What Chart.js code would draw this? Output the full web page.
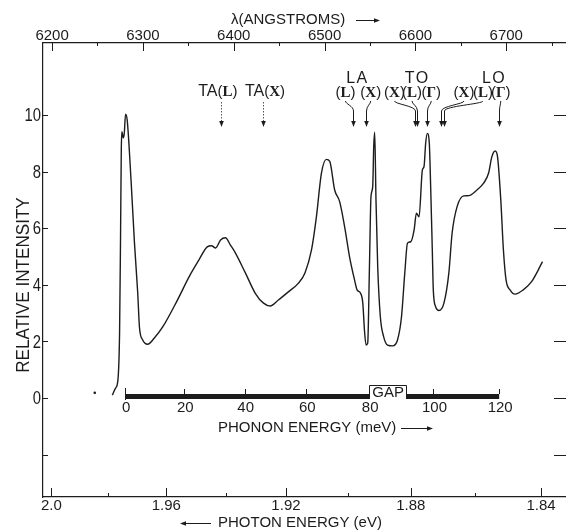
<!DOCTYPE html>
<html>
<head>
<meta charset="utf-8">
<script src="https://cdn.jsdelivr.net/npm/chart.js@4.4.1/dist/chart.umd.min.js"></script>
<style>
  html, body { margin: 0; padding: 0; background: #fff; overflow: hidden; }
  #wrap { width: 566px; height: 531px; overflow: hidden; position: relative; }
  #wrap canvas { position: absolute; left: 0; top: 0; }
</style>
</head>
<body>
<div id="wrap"><canvas id="chart" width="572" height="531"></canvas></div>
<script>
const HC = 12398.4; // eV * angstrom

// spectrum (wavelength in angstrom, relative intensity)
const wavelength = [
  6266.3, 6269.9, 6272.5, 6274.3, 6275.4, 6276.2, 6276.8, 6278.4, 6279.5, 6280.9,
  6282.7, 6287.1, 6290.7, 6294.3, 6296.2, 6299.8, 6305.2, 6312.6, 6321.6, 6338.0,
  6350.8, 6361.7, 6370.8, 6375.6, 6380.0, 6385.5, 6390.9, 6396.4, 6401.9, 6412.8,
  6423.7, 6432.8, 6440.1, 6449.2, 6460.1, 6471.0, 6478.4, 6485.6, 6491.0, 6496.5,
  6502.0, 6505.7, 6511.1, 6516.6, 6522.1, 6527.5, 6533.0, 6535.8, 6539.6, 6542.1,
  6543.9, 6545.7, 6547.5, 6549.4, 6551.1, 6553.0, 6554.1, 6555.2, 6556.6, 6558.5,
  6561.4, 6565.0, 6569.4, 6574.9, 6580.3, 6584.7, 6588.3, 6591.3, 6594.9, 6598.6,
  6601.1, 6604.0, 6607.7, 6609.5, 6611.3, 6613.1, 6615.3, 6616.7, 6618.6, 6619.7,
  6622.2, 6625.9, 6631.4, 6636.8, 6640.4, 6645.9, 6653.2, 6658.7, 6667.8, 6675.1,
  6680.5, 6684.2, 6687.8, 6690.4, 6694.0, 6696.9, 6699.8, 6704.2, 6709.6, 6718.8,
  6727.9, 6735.2, 6739.9
];
const intensity = [
  0.10, 0.35, 0.64, 2.30, 5.80, 8.76, 9.41, 9.19, 9.36, 10.03,
  9.82, 7.60, 5.48, 3.70, 2.50, 2.05, 1.90, 2.12, 2.50, 3.46,
  4.28, 4.88, 5.34, 5.38, 5.30, 5.58, 5.66, 5.40, 5.12, 4.42,
  3.70, 3.35, 3.25, 3.46, 3.75, 4.05, 4.42, 5.23, 6.40, 7.94,
  8.43, 8.36, 7.35, 6.94, 6.05, 4.99, 4.17, 3.82, 3.70, 3.35,
  2.40, 1.87, 1.94, 4.64, 7.12, 7.47, 8.88, 9.39, 7.00, 4.64,
  2.87, 2.17, 1.87, 1.84, 2.05, 2.87, 4.41, 5.47, 5.52, 5.94,
  6.53, 6.40, 8.06, 8.18, 9.00, 9.35, 9.00, 7.59, 5.23, 3.82,
  3.23, 3.09, 3.35, 4.41, 5.82, 6.76, 7.14, 7.15, 7.35, 7.59,
  7.94, 8.53, 8.73, 8.53, 7.00, 5.23, 4.17, 3.82, 3.67, 3.82,
  4.11, 4.52, 4.82
];
const speckWavelength = [6247];
const speckIntensity = [0.18];

const lambdaTicks = [6200, 6250, 6300, 6350, 6400, 6450, 6500, 6550, 6600, 6650, 6700, 6750];
const photonTicks = [2.0, 1.98, 1.96, 1.94, 1.92, 1.90, 1.88, 1.86, 1.84];
const photonLabels = ['2.0', '', '1.96', '', '1.92', '', '1.88', '', '1.84'];
const intensityTicks = [-2, 0, 2, 4, 6, 8, 10];
const intensityLabels = ['', '0', '2', '4', '6', '8', '10'];

// phonon energy scale drawn along the zero line
const phononTicks = [0, 20, 40, 60, 80, 100, 120];
const phononGap = [80, 91.5];
const phononZeroEv = 1.9741;
const phononStretch = 1.012;

// phonon assignments: arrow position and where the label sits (angstrom)
const modeArrow = [6385.5, 6431.7, 6531.1, 6545.4, 6599.2, 6601.4, 6613.1, 6628.4, 6631.4, 6691.5];
const modeLabelAt = [6382.5, 6434.4, 6523.0, 6550.8, 6577.0, 6596.2, 6617.5, 6653.5, 6674.3, 6694.0];
const modeBranch = ['TA', 'TA', 'LA', 'LA', 'TO', 'TO', 'TO', 'LO', 'LO', 'LO'];
const modePoint = ['L', 'X', 'L', 'X', 'X', 'L', 'Γ', 'X', 'L', 'Γ'];
const branchNames = ['LA', 'TO', 'LO'];
const branchLabelAt = [6535.5, 6601.1, 6685.8];

const ink = '#1c1c1c';
const sans = "'Liberation Sans', Arial, sans-serif";
const serif = "'Liberation Serif', 'Times New Roman', serif";
const phononLambda = mev => HC / (phononZeroEv - phononStretch * mev / 1000);

function head(ctx, x, y, dir, len = 6, half = 2.3) {
  ctx.beginPath();
  if (dir === 'down') { ctx.moveTo(x, y); ctx.lineTo(x - half, y - len); ctx.lineTo(x + half, y - len); }
  else if (dir === 'right') { ctx.moveTo(x, y); ctx.lineTo(x - len, y - half); ctx.lineTo(x - len, y + half); }
  else { ctx.moveTo(x, y); ctx.lineTo(x + len, y - half); ctx.lineTo(x + len, y + half); }
  ctx.closePath();
  ctx.fill();
}

// text made of pieces in different fonts, centred on cx
function rich(ctx, parts, cx, cy) {
  let w = 0;
  parts.forEach(p => { ctx.font = p[1]; w += ctx.measureText(p[0]).width; });
  let x = cx - w / 2;
  ctx.textAlign = 'left';
  ctx.textBaseline = 'middle';
  parts.forEach(p => { ctx.font = p[1]; ctx.fillText(p[0], x, cy); x += ctx.measureText(p[0]).width; });
}
const pointParts = letter => [['(', `15px ${sans}`], [letter, `bold 15px ${serif}`], [')', `15px ${sans}`]];

const frame = {
  id: 'frame',
  afterDraw(chart) {
    const { ctx, chartArea: a, scales: { x, xE, y } } = chart;
    ctx.save();
    ctx.strokeStyle = ink;
    ctx.fillStyle = ink;
    ctx.lineWidth = 1;

    // inward tick marks on all four sides
    ctx.beginPath();
    lambdaTicks.forEach(v => {
      const px = Math.round(x.getPixelForValue(v)) + 0.5;
      ctx.moveTo(px, a.top); ctx.lineTo(px, a.top + (v % 100 === 0 ? 8 : 3));
    });
    photonTicks.forEach((e, i) => {
      const px = Math.round(xE.getPixelForValue(HC / e)) + 0.5;
      ctx.moveTo(px, a.bottom); ctx.lineTo(px, a.bottom - (photonLabels[i] ? 9 : 4));
    });
    intensityTicks.forEach(v => {
      const py = Math.round(y.getPixelForValue(v)) + 0.5;
      ctx.moveTo(a.left, py); ctx.lineTo(a.left + 5, py);
      ctx.moveTo(a.right, py); ctx.lineTo(a.right - 14, py);
    });
    ctx.stroke();

    // y tick labels and title
    ctx.textAlign = 'right';
    ctx.textBaseline = 'middle';
    ctx.font = `19px ${sans}`;
    intensityTicks.forEach((v, i) => {
      if (!intensityLabels[i]) return;
      ctx.save();
      ctx.translate(a.left - 2, y.getPixelForValue(v) + 1);
      ctx.scale(0.78, 1);
      ctx.fillText(intensityLabels[i], 0, 0);
      ctx.restore();
    });
    ctx.save();
    ctx.translate(24.5, 285);
    ctx.rotate(-Math.PI / 2);
    ctx.scale(0.95, 1);
    ctx.font = `18px ${sans}`;
    ctx.textAlign = 'center';
    ctx.fillText('RELATIVE INTENSITY', 0, 0);
    ctx.restore();

    // top and bottom axis titles
    ctx.font = `15px ${sans}`;
    ctx.textAlign = 'left';
    ctx.fillText('λ(ANGSTROMS)', 231, 19.5);
    ctx.beginPath(); ctx.moveTo(356, 20.5); ctx.lineTo(375, 20.5); ctx.stroke();
    head(ctx, 380, 20.5, 'right');
    ctx.fillText('PHOTON ENERGY (eV)', 218, 523);
    ctx.beginPath(); ctx.moveTo(184, 523.5); ctx.lineTo(211, 523.5); ctx.stroke();
    head(ctx, 180, 523.5, 'left');

    // phonon energy bar on the zero line
    const y0 = Math.round(y.getPixelForValue(0));
    const px = m => xE.getPixelForValue(phononLambda(m));
    const p0 = px(phononTicks[0]), pEnd = px(phononTicks[phononTicks.length - 1]);
    const g0 = px(phononGap[0]), g1 = px(phononGap[1]);
    ctx.fillRect(p0, y0 - 4, g0 - p0, 5);
    ctx.fillRect(g1, y0 - 4, pEnd - g1, 5);
    ctx.fillStyle = '#fff';
    ctx.fillRect(g0, y0 - 12, g1 - g0, 13);
    ctx.fillStyle = ink;
    ctx.beginPath();
    ctx.moveTo(Math.round(g0) + 0.5, y0 + 1); ctx.lineTo(Math.round(g0) + 0.5, y0 - 12.5);
    ctx.lineTo(Math.round(g1) + 0.5, y0 - 12.5); ctx.lineTo(Math.round(g1) + 0.5, y0 + 1);
    phononTicks.forEach((m, i) => {
      const t = Math.round(px(m)) + 0.5;
      if (i === 0) { ctx.moveTo(t, y0 + 2); ctx.lineTo(t, y0 - 10); }
      else if (m < phononGap[0] || m > phononGap[1]) { ctx.moveTo(t, y0 - 4); ctx.lineTo(t, y0 - 9); }
    });
    ctx.stroke();
    ctx.font = `15px ${sans}`;
    ctx.textAlign = 'center';
    ctx.fillText('GAP', (g0 + g1) / 2 + 0.5, y0 - 5);
    phononTicks.forEach(m => ctx.fillText(String(m), px(m) + 1, y0 + 10));
    ctx.textAlign = 'left';
    ctx.fillText('PHONON ENERGY (meV)', 218, y0 + 30);
    ctx.beginPath(); ctx.moveTo(401, y0 + 30.5); ctx.lineTo(428, y0 + 30.5); ctx.stroke();
    head(ctx, 433, y0 + 30.5, 'right');

    // phonon assignment labels and arrows
    branchNames.forEach((b, i) => {
      ctx.font = `16px ${sans}`;
      ctx.textAlign = 'center';
      ctx.textBaseline = 'middle';
      ctx.fillText(b.split('').join(String.fromCharCode(8202)), x.getPixelForValue(branchLabelAt[i]), 79);
    });
    modeArrow.forEach((lam, i) => {
      const ax = Math.round(x.getPixelForValue(lam)) + 0.5;
      const lx = x.getPixelForValue(modeLabelAt[i]);
      if (modeBranch[i] === 'TA') {
        rich(ctx, [['TA', `16px ${sans}`]].concat(pointParts(modePoint[i])), lx, 92);
        ctx.save();
        ctx.setLineDash([1.5, 1.5]);
        ctx.strokeStyle = '#555';
        ctx.beginPath(); ctx.moveTo(ax, 102); ctx.lineTo(ax, 122); ctx.stroke();
        ctx.restore();
      } else {
        rich(ctx, pointParts(modePoint[i]), lx, 93);
        ctx.beginPath();
        ctx.moveTo(lx, 101);
        ctx.bezierCurveTo(lx, 104, ax, 106, ax, 111);
        ctx.lineTo(ax, 122);
        ctx.stroke();
      }
      head(ctx, ax, 127, 'down');
    });
    ctx.restore();
  }
};

new Chart(document.getElementById('chart'), {
  type: 'line',
  data: {
    datasets: [
      {
        data: wavelength.map((w, i) => ({ x: w, y: intensity[i] })),
        xAxisID: 'x', yAxisID: 'y',
        borderColor: ink, borderWidth: 1.4, pointRadius: 0,
        cubicInterpolationMode: 'monotone'
      },
      {
        data: speckWavelength.map((w, i) => ({ x: w, y: speckIntensity[i] })),
        xAxisID: 'x', yAxisID: 'y',
        showLine: false, pointRadius: 1.3, borderWidth: 0, pointBackgroundColor: ink
      }
    ]
  },
  options: {
    responsive: false,
    animation: false,
    events: [],
    layout: { padding: 0 },
    plugins: { legend: { display: false }, tooltip: { enabled: false } },
    scales: {
      x: {
        type: 'linear', position: 'top', min: 6190, max: 6768,
        afterFit: s => { s.height = 43; },
        afterBuildTicks: s => { s.ticks = lambdaTicks.map(v => ({ value: v })); },
        grid: { display: false, drawTicks: false },
        border: { color: ink, width: 1.2 },
        ticks: {
          autoSkip: false, maxRotation: 0, padding: 0, color: ink,
          font: { family: sans, size: 15, lineHeight: 1 },
          callback: v => (v % 100 === 0 ? String(v) : '')
        }
      },
      xE: {
        type: 'linear', position: 'bottom', min: 6190, max: 6768,
        afterFit: s => { s.height = 34; },
        afterBuildTicks: s => { s.ticks = photonTicks.map(e => ({ value: HC / e })); },
        grid: { display: false, drawTicks: false },
        border: { color: ink, width: 1.2 },
        ticks: {
          autoSkip: false, maxRotation: 0, padding: 1.5, color: ink,
          font: { family: sans, size: 15, lineHeight: 1 },
          callback: (v, i) => photonLabels[i]
        }
      },
      y: {
        type: 'linear', position: 'left', min: -3.5, max: 12.544,
        afterFit: s => { s.width = 43; },
        grid: { display: false, drawTicks: false },
        border: { color: ink, width: 1.2 },
        ticks: { display: false }
      }
    }
  },
  plugins: [frame]
});
</script>
</body>
</html>
